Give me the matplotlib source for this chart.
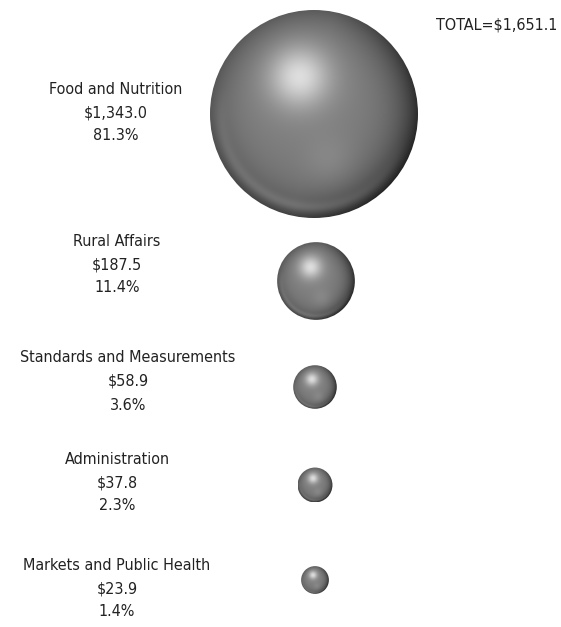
import numpy as np
import matplotlib
matplotlib.use("Agg")
import matplotlib.pyplot as plt
from matplotlib.patches import Circle

# data
programs = ["Food and Nutrition", "Rural Affairs", "Standards and Measurements",
            "Administration", "Markets and Public Health"]
amounts = [1343.0, 187.5, 58.9, 37.8, 23.9]
shares = [81.3, 11.4, 3.6, 2.3, 1.4]
total = 1651.1

plt.rcParams['font.family'] = ['DejaVu Sans']

W, H = 561, 627
fig = plt.figure(figsize=(W / 100, H / 100), dpi=100)
ax = fig.add_axes([0, 0, 1, 1])
ax.set_xlim(0, W)
ax.set_ylim(H, 0)
ax.axis('off')

# layout (pixel coords)
cx = [314, 316, 315, 315, 315]
cy = [114, 281, 387, 485, 580]
label_x = [116, 117, 128, 117, 117]
label_y = [89, 241, 358, 459, 565]
scale = 104 / np.sqrt(amounts[0])


def sphere_img(n=300):
    g = np.linspace(-1, 1, n)
    X, Y = np.meshgrid(g, g)
    R = np.clip(np.sqrt(X ** 2 + Y ** 2), 0, 1)
    val = 0.47 + np.zeros_like(X)
    # soft highlight, upper middle-left
    d2 = (X + 0.14) ** 2 + (Y + 0.36) ** 2
    val += 0.34 * np.exp(-d2 / 0.08)
    val += 0.06 * np.exp(-d2 / 0.5)
    # faint secondary light lower middle
    val += 0.05 * np.exp(-((X - 0.15) ** 2 + (Y - 0.45) ** 2) / 0.06)
    # dark rim, stronger on right / bottom
    val -= 0.14 * R ** 5
    val -= 0.16 * np.clip(X + 0.2 * Y, 0, 1) * R ** 3
    val -= 0.08 * np.clip(Y, 0, 1) * R ** 4
    # light band just inside bottom rim
    band = np.exp(-((R - 0.9) ** 2) / 0.003) * np.clip(Y - X * 0.3, 0, 1)
    val += 0.10 * band
    val = np.clip(val, 0, 1)
    return np.dstack([val, val, val, np.ones_like(val)])


img = sphere_img()
for i in range(len(programs)):
    r = scale * np.sqrt(amounts[i])
    im = ax.imshow(img, extent=[cx[i] - r, cx[i] + r, cy[i] + r, cy[i] - r],
                   interpolation='bilinear', zorder=2)
    im.set_clip_path(Circle((cx[i], cy[i]), r, transform=ax.transData))

    lines = [programs[i], "${:,.1f}".format(amounts[i]), "{:.1f}%".format(shares[i])]
    for j, t in enumerate(lines):
        ax.text(label_x[i], label_y[i] + j * 23.5, t, ha='center', va='center',
                fontsize=11.5, fontstretch='condensed', color='#222222')

ax.text(557, 25, "TOTAL=${:,.1f}".format(total), ha='right', va='center',
        fontsize=11.5, fontstretch='condensed', color='#222222')

ax.set_xlim(0, W)
ax.set_ylim(H, 0)
plt.savefig('out.png', dpi=100)
